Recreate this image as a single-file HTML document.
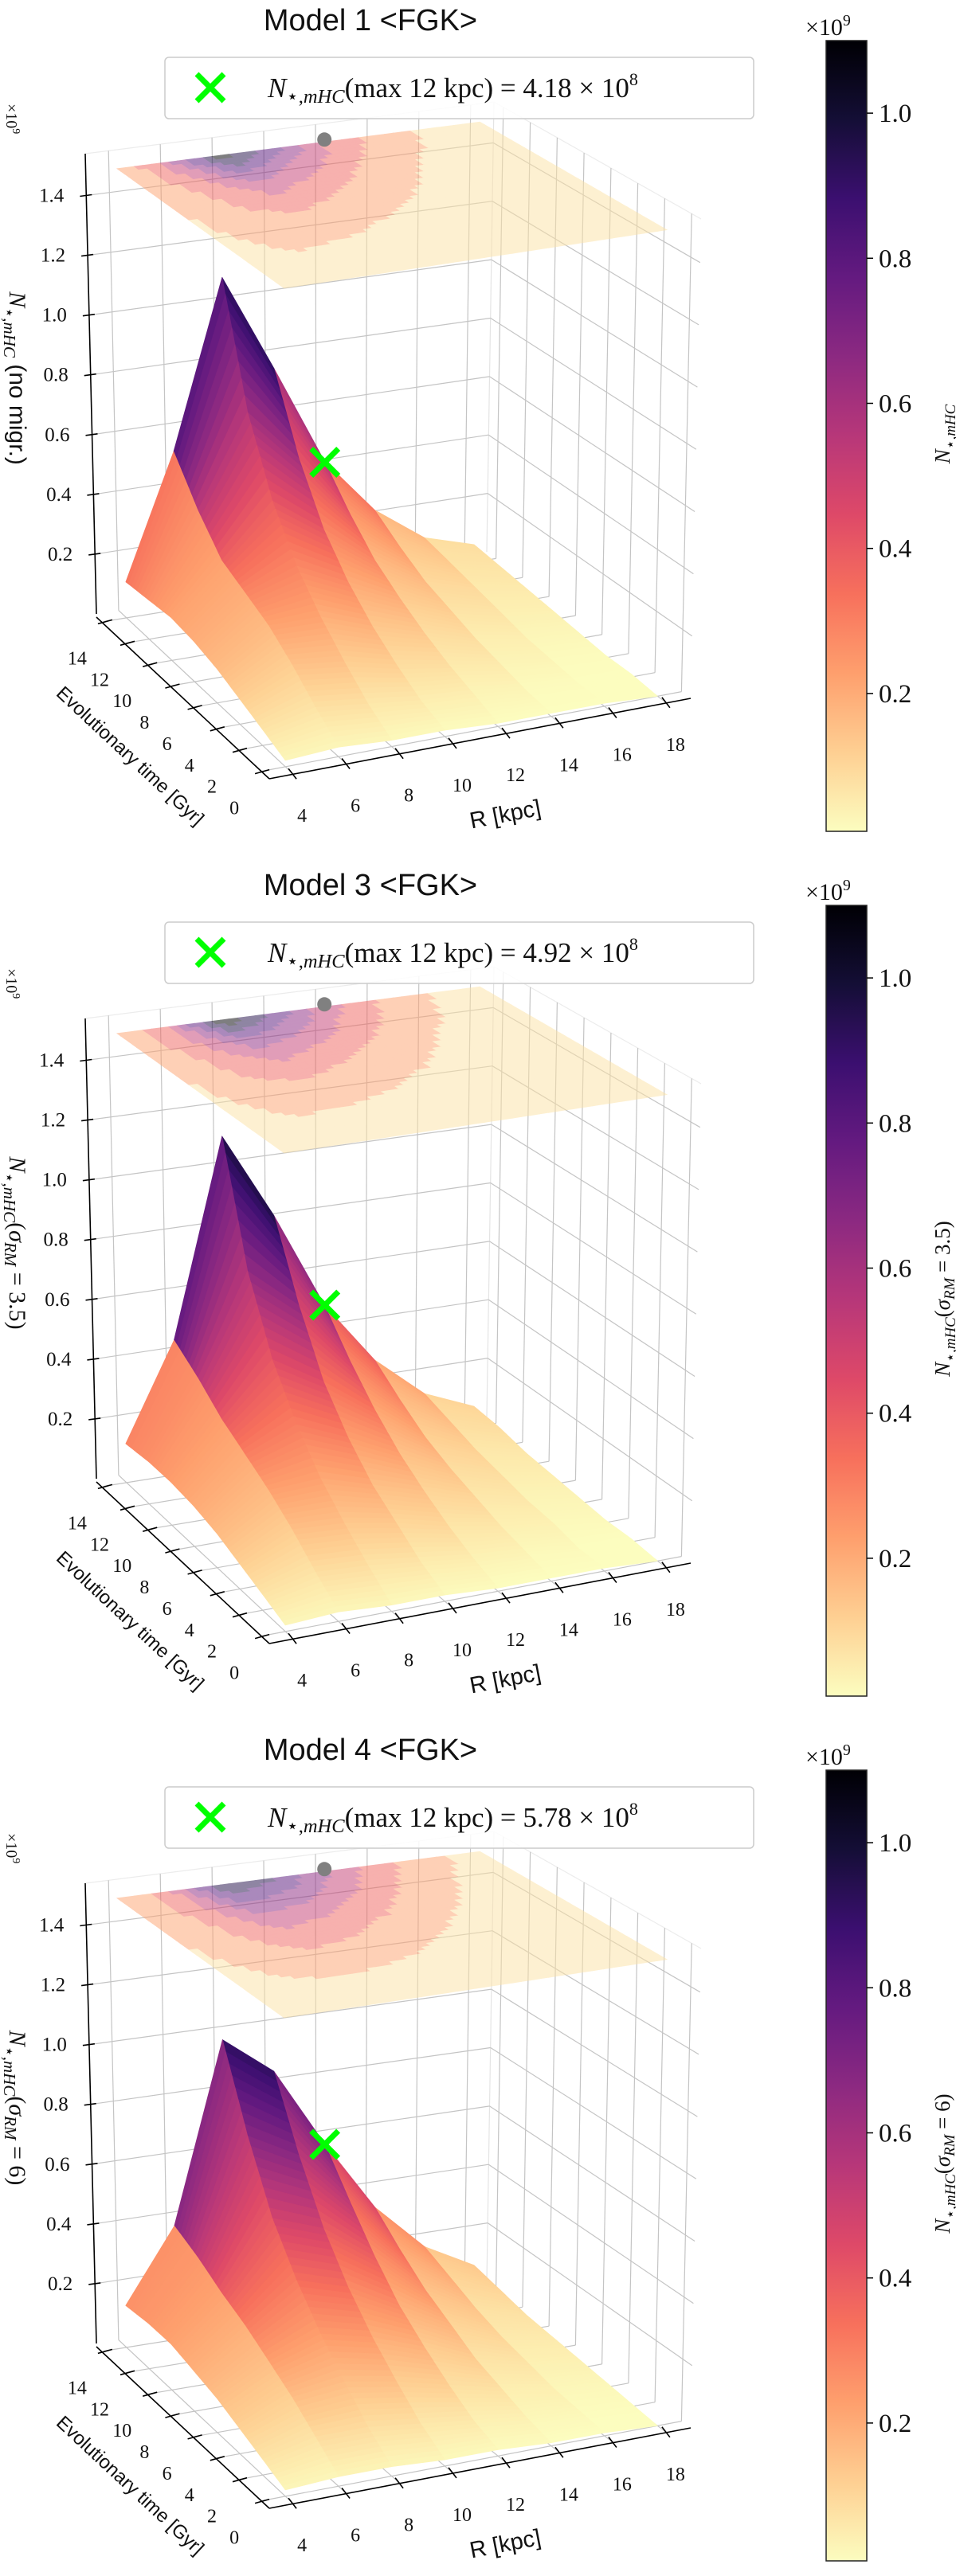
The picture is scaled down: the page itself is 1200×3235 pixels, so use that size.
<!DOCTYPE html>
<html>
<head>
<meta charset="utf-8">
<style>
html,body{margin:0;padding:0;background:#fff;}
svg{display:block;}
text{font-family:"Liberation Serif","DejaVu Serif",serif;fill:#111;}
.sans{font-family:"Liberation Sans","DejaVu Sans",sans-serif;}
</style>
</head>
<body>
<svg id="chart" xmlns="http://www.w3.org/2000/svg" width="1200" height="3235" viewBox="0 0 1200 3235">
<defs>
<linearGradient id="magmaGrad" x1="0" y1="1" x2="0" y2="0"></linearGradient>
</defs>
</svg>
<script>
// ---------- data ----------
const R_VALS = [4, 6, 8, 10, 12, 14, 16, 18];
const T_VALS = [0, 2, 4, 6, 8, 10, 12, 14];
const Z_TICKS = [0.2, 0.4, 0.6, 0.8, 1.0, 1.2, 1.4];
const CB_TICKS = [0.2, 0.4, 0.6, 0.8, 1.0];
const TITLES = ['Model 1 <FGK>', 'Model 3 <FGK>', 'Model 4 <FGK>'];
const LEGEND_VALUES = ['4.18', '4.92', '5.78'];
const MARKER_Z = [0.418, 0.492, 0.578];
// rows: t = 0..14 ; columns: R = 4..18 (units 1e9)
const model1Grid = [
  [0.02,0.03,0.02,0.02,0.01,0.01,0.01,0.00],
  [0.05,0.09,0.07,0.05,0.04,0.02,0.01,0.01],
  [0.08,0.16,0.14,0.10,0.07,0.04,0.02,0.01],
  [0.11,0.22,0.22,0.16,0.11,0.06,0.03,0.02],
  [0.13,0.26,0.32,0.24,0.16,0.09,0.05,0.03],
  [0.14,0.30,0.47,0.35,0.22,0.12,0.07,0.04],
  [0.13,0.40,0.70,0.52,0.31,0.17,0.09,0.05],
  [0.12,0.53,1.09,0.76,0.42,0.23,0.11,0.06]
];
const model3Grid = [
  [0.02,0.03,0.02,0.02,0.01,0.01,0.01,0.00],
  [0.05,0.09,0.08,0.06,0.04,0.03,0.01,0.01],
  [0.08,0.16,0.15,0.12,0.08,0.05,0.03,0.01],
  [0.11,0.22,0.23,0.18,0.13,0.08,0.04,0.02],
  [0.13,0.27,0.34,0.27,0.19,0.11,0.06,0.03],
  [0.14,0.32,0.49,0.39,0.27,0.15,0.08,0.04],
  [0.14,0.39,0.72,0.58,0.37,0.21,0.11,0.06],
  [0.13,0.45,1.11,0.82,0.49,0.28,0.14,0.07]
];
const model4Grid = [
  [0.02,0.03,0.03,0.02,0.02,0.01,0.01,0.00],
  [0.05,0.09,0.09,0.07,0.05,0.03,0.02,0.01],
  [0.08,0.15,0.17,0.14,0.10,0.06,0.03,0.02],
  [0.11,0.20,0.26,0.22,0.16,0.09,0.05,0.03],
  [0.13,0.25,0.37,0.32,0.23,0.14,0.07,0.04],
  [0.15,0.29,0.51,0.45,0.33,0.19,0.10,0.05],
  [0.15,0.34,0.72,0.63,0.45,0.26,0.14,0.07],
  [0.14,0.38,0.98,0.85,0.58,0.34,0.18,0.09]
];
const GRIDS = [model1Grid, model3Grid, model4Grid];

// ---------- geometry ----------
const PANEL_OFFSETS = [0, 1086, 2172];
const RMIN = 3.1, RMAX = 18.9, TMIN = -0.7, TMAX = 14.7, ZTOP = 1.54, ZC = 1.5;
const VMIN = 0.01, VMAX = 1.1;
const BOT = {A:[338,978], B:[867,877], C:[121,771], D:[611,693]};
const TOP = {A:[336,358], B:[880,275], C:[107,193], D:[620,128]};

const NS = 'http://www.w3.org/2000/svg';
const svg = document.getElementById('chart');
function mk(tag, attrs, parent) {
  const e = document.createElementNS(NS, tag);
  for (const k in attrs) e.setAttribute(k, attrs[k]);
  (parent || svg).appendChild(e);
  return e;
}
function bil(Q, uR, ut) {
  const fx = Q.A[0] + (Q.B[0]-Q.A[0])*uR, fy = Q.A[1] + (Q.B[1]-Q.A[1])*uR;
  const bx = Q.C[0] + (Q.D[0]-Q.C[0])*uR, by = Q.C[1] + (Q.D[1]-Q.C[1])*uR;
  return [fx + (bx-fx)*ut, fy + (by-fy)*ut];
}
function P(R, t, z, oy) {
  const uR = (R-RMIN)/(RMAX-RMIN), ut = (t-TMIN)/(TMAX-TMIN), w = z/ZTOP;
  const b = bil(BOT, uR, ut), tp = bil(TOP, uR, ut);
  return [b[0] + (tp[0]-b[0])*w, b[1] + (tp[1]-b[1])*w + oy];
}
const MAGMA = [[0,0,4],[20,14,54],[59,15,112],[100,26,128],[140,41,129],[183,55,121],[222,73,104],[247,112,92],[254,159,109],[254,207,146],[252,253,191]];
function magma(x) {
  x = Math.max(0, Math.min(1, x)) * 10;
  const i = Math.min(9, Math.floor(x)), f = x - i;
  const a = MAGMA[i], b = MAGMA[i+1];
  return 'rgb(' + [0,1,2].map(k => Math.round(a[k] + (b[k]-a[k])*f)).join(',') + ')';
}
function colorFor(v) { return magma(1 - (v - VMIN)/(VMAX - VMIN)); }
function line(p, q, attrs, parent) {
  return mk('line', Object.assign({x1:p[0].toFixed(1), y1:p[1].toFixed(1), x2:q[0].toFixed(1), y2:q[1].toFixed(1)}, attrs), parent);
}
function pts(arr) { return arr.map(p => p[0].toFixed(1)+','+p[1].toFixed(1)).join(' '); }

const grad = document.getElementById('magmaGrad');
for (let i = 0; i <= 20; i++) {
  mk('stop', {offset: (i/20).toFixed(2), 'stop-color': magma(1 - i/20)}, grad);
}

const MATH_N = '<tspan font-style="italic">N</tspan><tspan font-size="70%" dy="7">⋆,<tspan font-style="italic">mHC</tspan></tspan>';

PANEL_OFFSETS.forEach((oy, p) => {
  const grid = GRIDS[p];
  const g = mk('g', {});
  
  

  const title = mk('text', {x:465, y:oy+38, 'text-anchor':'middle', 'font-size':38, class:'sans'}, g);
  title.textContent = TITLES[p];
  
  

  const gl = mk('g', {stroke:'#c4c4c4', 'stroke-width':1.2, fill:'none'}, g);
  
  
  line(P(RMIN,TMAX,ZTOP,oy), P(RMAX,TMAX,ZTOP,oy), {stroke:'#ececec'}, gl);
  line(P(RMAX,TMAX,ZTOP,oy), P(RMAX,TMIN,ZTOP,oy), {stroke:'#ececec'}, gl);
  line(P(RMAX,TMAX,0,oy), P(RMAX,TMAX,ZTOP,oy), {stroke:'#e4e4e4'}, gl);
  R_VALS.forEach(r => {
    line(P(r,TMAX,0,oy), P(r,TMAX,ZTOP,oy), {}, gl);
    line(P(r,TMIN,0,oy), P(r,TMAX,0,oy), {}, gl);
  });
  T_VALS.forEach(t => {
    line(P(RMAX,t,0,oy), P(RMAX,t,ZTOP,oy), {}, gl);
    line(P(RMIN,t,0,oy), P(RMAX,t,0,oy), {}, gl);
  });
  Z_TICKS.forEach(z => {
    line(P(RMIN,TMAX,z,oy), P(RMAX,TMAX,z,oy), {}, gl);
    line(P(RMAX,TMAX,z,oy), P(RMAX,TMIN,z,oy), {}, gl);
  });

  function val(ti, rj) {
    const i = Math.min(Math.floor(ti), T_VALS.length-2), j = Math.min(Math.floor(rj), R_VALS.length-2);
    const fi = ti - i, fj = rj - j;
    return grid[i][j]*(1-fi)*(1-fj) + grid[i+1][j]*fi*(1-fj) + grid[i][j+1]*(1-fi)*fj + grid[i+1][j+1]*fi*fj;
  }
  function tAt(ti) { const i = Math.min(Math.floor(ti), T_VALS.length-2); return T_VALS[i] + (T_VALS[i+1]-T_VALS[i])*(ti-i); }
  function rAt(rj) { const j = Math.min(Math.floor(rj), R_VALS.length-2); return R_VALS[j] + (R_VALS[j+1]-R_VALS[j])*(rj-j); }

  function buildQuads(NT, NR) {
    const out = [];
    const nti = (T_VALS.length-1)*NT, nrj = (R_VALS.length-1)*NR;
    for (let a = 0; a < nti; a++) {
      for (let b = 0; b < nrj; b++) {
        const c = [[a,b],[a,b+1],[a+1,b+1],[a+1,b]].map(([x,y]) => {
          const ti = x/NT, rj = y/NR;
          return {t:tAt(ti), r:rAt(rj), v:val(ti, rj)};
        });
        const avg = (c[0].v+c[1].v+c[2].v+c[3].v)/4;
        const ctr = P((c[0].r+c[2].r)/2, (c[0].t+c[2].t)/2, 0, 0);
        out.push({c, avg, depth: ctr[1]});
      }
    }
    return out;
  }
  const cquads = buildQuads(6, 6);
  const squads = buildQuads(8, 1);

  const LEVEL = 0.14;
  const cg = mk('g', {opacity:0.5}, g);
  
  
  cquads.forEach(q => {
    const lv = Math.min(7, Math.floor(q.avg / LEVEL));
    const col = colorFor((lv + 0.5) * LEVEL * 1.05);
    const poly = mk('polygon', {points: pts(q.c.map(k => P(k.r, k.t, ZC, oy))), fill: col, stroke: col, 'stroke-width': 0.8}, cg);
    
    
  });
  const gp = P(12, 14, ZC, oy);
  const dot = mk('circle', {cx: gp[0].toFixed(1), cy: (gp[1]-3).toFixed(1), r: 9, fill: '#808080'}, g);
  
  

  const sg = mk('g', {}, g);
  
  
  squads.slice().sort((u, v) => u.depth - v.depth).forEach(q => {
    const col = colorFor(q.avg);
    const poly = mk('polygon', {points: pts(q.c.map(k => P(k.r, k.t, k.v, oy))), fill: col, stroke: col, 'stroke-width': 0.7, 'stroke-linejoin':'round'}, sg);
    
    
  });

  const ax = mk('g', {stroke:'#000', 'stroke-width':1.6, fill:'none'}, g);
  
  
  line(P(RMIN,TMAX,0,oy), P(RMIN,TMAX,ZTOP,oy), {}, ax);
  line([BOT.C[0], BOT.C[1]+4+oy], [BOT.A[0], BOT.A[1]+oy], {}, ax);
  line([BOT.A[0], BOT.A[1]+oy], [BOT.B[0], BOT.B[1]+oy], {}, ax);
  Z_TICKS.forEach(z => {
    const q = P(RMIN,TMAX,z,oy);
    line([q[0]-8, q[1]+1], [q[0]+7, q[1]-1], {}, ax);
    const lab = mk('text', {x:(q[0]-28).toFixed(1), y:(q[1]+8).toFixed(1), 'text-anchor':'end', 'font-size':25}, g);
    lab.textContent = z.toFixed(1);
    
    
  });
  T_VALS.forEach(t => {
    const u = (t-TMIN)/(TMAX-TMIN);
    const q = [BOT.A[0] + (BOT.C[0]-BOT.A[0])*u, BOT.A[1] + (BOT.C[1]-BOT.A[1])*u + oy];
    line([q[0]-8, q[1]+3], [q[0]+10, q[1]-2], {}, ax);
    const lab = mk('text', {x:(q[0]-34).toFixed(1), y:(q[1]+54).toFixed(1), 'text-anchor':'middle', 'font-size':24}, g);
    lab.textContent = String(t);
    
    
  });
  R_VALS.forEach(r => {
    const u = (r-RMIN)/(RMAX-RMIN);
    const q = [BOT.A[0] + (BOT.B[0]-BOT.A[0])*u, BOT.A[1] + (BOT.B[1]-BOT.A[1])*u + oy];
    line([q[0]-6, q[1]-7], [q[0]+4, q[1]+6], {}, ax);
    const lab = mk('text', {x:(q[0]+11).toFixed(1), y:(q[1]+60).toFixed(1), 'text-anchor':'middle', 'font-size':24}, g);
    lab.textContent = String(r);
    
    
  });

  const ex = mk('text', {x:0, y:0, 'font-size':20, transform:'translate(8,' + (oy+130) + ') rotate(90)'}, g);
  ex.innerHTML = '×10<tspan font-size="14" dy="-8">9</tspan>';
  
  

  const zl = mk('text', {x:0, y:0, 'font-size':30, 'text-anchor':'middle', transform:'translate(12,' + (oy+475) + ') rotate(90)'}, g);
  if (p === 0) zl.innerHTML = MATH_N + '<tspan dy="-7" class="sans"> (no migr.)</tspan>';
  else zl.innerHTML = MATH_N + '<tspan dy="-7">(<tspan font-style="italic">σ</tspan><tspan font-size="70%" dy="6" font-style="italic">RM</tspan><tspan dy="-6"> = ' + (p === 1 ? '3.5' : '6') + ')</tspan></tspan>';
  
  

  const tl = mk('text', {x:0, y:0, 'font-size':24, 'text-anchor':'middle', class:'sans', transform:'translate(158,' + (oy+955) + ') rotate(43)'}, g);
  tl.textContent = 'Evolutionary time [Gyr]';
  
  

  const rl = mk('text', {x:0, y:0, 'font-size':29, 'text-anchor':'middle', class:'sans', transform:'translate(636,' + (oy+1032) + ') rotate(-11)'}, g);
  rl.textContent = 'R [kpc]';
  
  

  const mp = P(12, 14, MARKER_Z[p], oy);
  const mg = mk('g', {stroke:'#00ff00', 'stroke-width':7}, g);
  
  
  line([mp[0]-17, mp[1]-17], [mp[0]+17, mp[1]+17], {}, mg);
  line([mp[0]-17, mp[1]+17], [mp[0]+17, mp[1]-17], {}, mg);

  const lg = mk('g', {}, g);
  
  
  mk('rect', {x:207, y:oy+72, width:739, height:77, rx:5, fill:'#fff', 'fill-opacity':0.85, stroke:'#cccccc', 'stroke-width':1.5}, lg);
  const lx = mk('g', {stroke:'#00ff00', 'stroke-width':7}, lg);
  
  
  line([247, oy+93], [281, oy+127], {}, lx);
  line([247, oy+127], [281, oy+93], {}, lx);
  const lt = mk('text', {x:336, y:oy+122, 'font-size':35}, lg);
  lt.innerHTML = MATH_N + '<tspan dy="-7">(max 12 kpc) = ' + LEGEND_VALUES[p] + ' × 10</tspan><tspan font-size="22" dy="-15">8</tspan>';
  
  

  const cb = mk('g', {}, g);
  
  
  const CB_TOP = oy + 51, CB_BOT = oy + 1044;
  mk('rect', {x:1037, y:CB_TOP, width:51, height:CB_BOT-CB_TOP, fill:'url(#magmaGrad)', stroke:'#222', 'stroke-width':1.5}, cb);
  CB_TICKS.forEach(v => {
    const y = CB_BOT - (v - VMIN)/(VMAX - VMIN)*(CB_BOT - CB_TOP);
    line([1088, y], [1096, y], {stroke:'#000', 'stroke-width':1.5}, cb);
    const lab = mk('text', {x:1103, y:(y+11).toFixed(1), 'font-size':33}, cb);
    lab.textContent = v.toFixed(1);
    
    
  });
  const cbx = mk('text', {x:1011, y:oy+44, 'font-size':30}, cb);
  cbx.innerHTML = '×10<tspan font-size="20" dy="-12">9</tspan>';
  
  
  const cbl = mk('text', {x:0, y:0, 'font-size':27, 'text-anchor':'middle', transform:'translate(1192,' + (oy+545) + ') rotate(-90)'}, cb);
  if (p === 0) cbl.innerHTML = MATH_N;
  else cbl.innerHTML = MATH_N + '<tspan dy="-7">(<tspan font-style="italic">σ</tspan><tspan font-size="70%" dy="6" font-style="italic">RM</tspan><tspan dy="-6"> = ' + (p === 1 ? '3.5' : '6') + ')</tspan></tspan>';
  
  
});
</script>
</body>
</html>
